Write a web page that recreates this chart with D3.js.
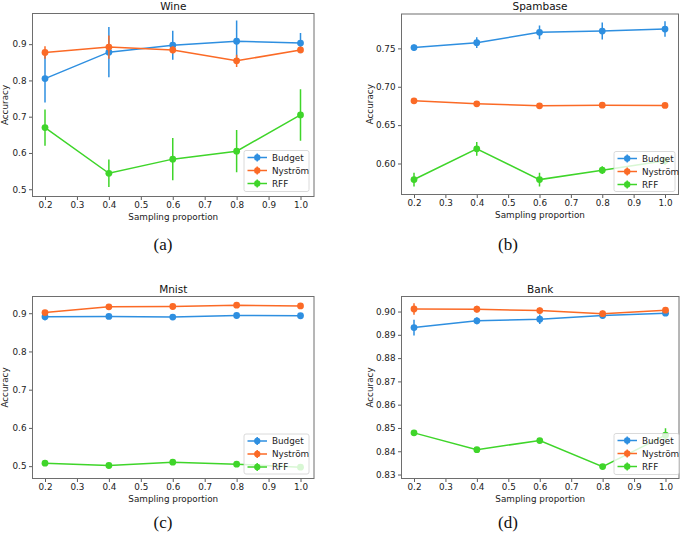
<!DOCTYPE html>
<html><head><meta charset="utf-8">
<script src="https://cdn.jsdelivr.net/npm/d3@7"></script>
<style>body{margin:0;background:#fff}svg{display:block}</style>
</head><body>
<script>
// ---------- DATA ----------
const samplingProportion = [0.2, 0.4, 0.6, 0.8, 1.0];
const seriesNames = ["Budget", "Nyström", "RFF"];
const xTicks = [0.2, 0.3, 0.4, 0.5, 0.6, 0.7, 0.8, 0.9, 1.0];

const wineBudget = [0.805, 0.878, 0.897, 0.908, 0.903];
const wineBudgetErr = [0.066, 0.069, 0.040, 0.057, 0.028];
const wineNystrom = [0.877, 0.892, 0.884, 0.854, 0.884];
const wineNystromErr = [0.017, 0.032, 0.010, 0.017, 0.007];
const wineRFF = [0.670, 0.544, 0.583, 0.605, 0.705];
const wineRFFErr = [0.050, 0.038, 0.058, 0.058, 0.071];
const wineYTicks = [0.5, 0.6, 0.7, 0.8, 0.9];

const spamBudget = [0.751, 0.7574, 0.7709, 0.7726, 0.7752];
const spamBudgetErr = [0.004, 0.007, 0.009, 0.011, 0.010];
const spamNystrom = [0.6817, 0.6778, 0.6752, 0.676, 0.6757];
const spamNystromErr = [0.002, 0.002, 0.002, 0.002, 0.002];
const spamRFF = [0.5791, 0.6191, 0.579, 0.5913, 0.6035];
const spamRFFErr = [0.009, 0.009, 0.009, 0.005, 0.005];
const spamYTicks = [0.60, 0.65, 0.70, 0.75];

const mnistBudget = [0.891, 0.8917, 0.890, 0.894, 0.8934];
const mnistBudgetErr = [0.010, 0.003, 0.003, 0.003, 0.002];
const mnistNystrom = [0.9017, 0.9166, 0.9175, 0.921, 0.919];
const mnistNystromErr = [0.003, 0.003, 0.002, 0.003, 0.002];
const mnistRFF = [0.5079, 0.5017, 0.5105, 0.5052, 0.4974];
const mnistRFFErr = [0.003, 0.003, 0.005, 0.003, 0.003];
const mnistYTicks = [0.5, 0.6, 0.7, 0.8, 0.9];

const bankBudget = [0.8931, 0.896, 0.8967, 0.8983, 0.8993];
const bankBudgetErr = [0.0034, 0.0015, 0.002, 0.0012, 0.001];
const bankNystrom = [0.9011, 0.901, 0.9004, 0.8991, 0.9006];
const bankNystromErr = [0.0025, 0.0015, 0.0013, 0.0013, 0.0012];
const bankRFF = [0.8479, 0.8407, 0.8446, 0.8334, 0.8469];
const bankRFFErr = [0.0006, 0.0006, 0.0006, 0.0006, 0.003];
const bankYTicks = [0.83, 0.84, 0.85, 0.86, 0.87, 0.88, 0.89, 0.90];

const colors = ["#2e8fe0", "#fb6a26", "#3fd52a"];

// ---------- LAYOUT ----------
const panels = [
  {title:"Wine", caption:"(a)", box:[32.5,13.5,314,196.5], ydom:[0.48,0.9845], yticks:wineYTicks, fmt:d3.format(".1f"),
   series:[[wineBudget,wineBudgetErr],[wineNystrom,wineNystromErr],[wineRFF,wineRFFErr]],
   legend:[244,150.5,309,191.5], ylabX:5, capX:163, capY:250},
  {title:"Spambase", caption:"(b)", box:[401.5,14,678.5,194.5], ydom:[0.5596,0.7948], yticks:spamYTicks, fmt:d3.format(".2f"),
   series:[[spamBudget,spamBudgetErr],[spamNystrom,spamNystromErr],[spamRFF,spamRFFErr]],
   legend:[614,151.5,675,191.5], ylabX:370, capX:508, capY:250},
  {title:"Mnist", caption:"(c)", box:[32.5,296.5,314,478.5], ydom:[0.4677,0.9437], yticks:mnistYTicks, fmt:d3.format(".1f"),
   series:[[mnistBudget,mnistBudgetErr],[mnistNystrom,mnistNystromErr],[mnistRFF,mnistRFFErr]],
   legend:[244,434,309,474], ylabX:5, capX:163, capY:528},
  {title:"Bank", caption:"(d)", box:[401.5,296.5,679,478.5], ydom:[0.8283,0.90646], yticks:bankYTicks, fmt:d3.format(".2f"),
   series:[[bankBudget,bankBudgetErr],[bankNystrom,bankNystromErr],[bankRFF,bankRFFErr]],
   legend:[614,433.5,679,474.5], ylabX:370, capX:508, capY:528}
];

const svg = d3.select("body").append("svg").attr("width",685).attr("height",537);
const fontSans = "'DejaVu Sans', sans-serif";

panels.forEach(p => {
  const [x0,y0,x1,y1] = p.box;
  const padL = 12.5, padR = 13.5;
  const x = d3.scaleLinear().domain([0.2,1.0]).range([x0+padL, x1-padR]);
  const y = d3.scaleLinear().domain(p.ydom).range([y1, y0]);
  const g = svg.append("g");

  const xAxis = d3.axisBottom(x).tickValues(xTicks).tickFormat(d3.format(".1f")).tickSize(3.5).tickPadding(2);
  const yAxis = d3.axisLeft(y).tickValues(p.yticks).tickFormat(p.fmt).tickSize(3.5).tickPadding(2.5);
  const gx = g.append("g").attr("transform",`translate(0,${y1})`).call(xAxis);
  const gy = g.append("g").attr("transform",`translate(${x0},0)`).call(yAxis);
  [gx,gy].forEach(a => {
    a.select(".domain").remove();
    a.selectAll(".tick line").attr("stroke","#333").attr("stroke-width",0.8);
    a.selectAll(".tick text").attr("font-family",fontSans).attr("font-size",8.8).attr("fill","#222");
  });

  const clipId = "clip"+p.caption.replace(/\W/g,"");
  g.append("clipPath").attr("id",clipId).append("rect").attr("x",x0).attr("y",y0).attr("width",x1-x0).attr("height",y1-y0);
  const plot = g.append("g").attr("clip-path",`url(#${clipId})`);

  p.series.forEach(([vals,errs],si) => {
    const c = colors[si];
    const pts = samplingProportion.map((s,i)=>({s, v:vals[i], e:errs[i]}));
    plot.append("path").datum(pts)
      .attr("d", d3.line().x(d=>x(d.s)).y(d=>y(d.v)))
      .attr("fill","none").attr("stroke",c).attr("stroke-width",1.5);
    plot.selectAll(null).data(pts).enter().append("line")
      .attr("x1",d=>x(d.s)).attr("x2",d=>x(d.s))
      .attr("y1",d=>y(d.v-d.e)).attr("y2",d=>y(d.v+d.e))
      .attr("stroke",c).attr("stroke-width",1.5);
    plot.selectAll(null).data(pts).enter().append("circle")
      .attr("cx",d=>x(d.s)).attr("cy",d=>y(d.v)).attr("r",3.4).attr("fill",c);
  });

  g.append("rect").attr("x",x0).attr("y",y0).attr("width",x1-x0).attr("height",y1-y0)
    .attr("fill","none").attr("stroke","#6e6e6e").attr("stroke-width",1);

  const [lx0,ly0,lx1,ly1] = p.legend;
  g.append("rect").attr("x",lx0).attr("y",ly0).attr("width",lx1-lx0).attr("height",ly1-ly0)
    .attr("rx",2).attr("fill","#fff").attr("fill-opacity",0.8).attr("stroke","#d0d0d0").attr("stroke-width",0.8);
  seriesNames.forEach((name,i) => {
    const ly = ly0 + 7 + i*13;
    const c = colors[i];
    const la = g.append("g");
    la.append("line").attr("x1",lx0+3.5).attr("x2",lx0+23).attr("y1",ly).attr("y2",ly).attr("stroke",c).attr("stroke-width",1.5);
    la.append("line").attr("x1",lx0+13.2).attr("x2",lx0+13.2).attr("y1",ly-4).attr("y2",ly+4).attr("stroke",c).attr("stroke-width",1.5);
    la.append("circle").attr("cx",lx0+13.2).attr("cy",ly).attr("r",3.2).attr("fill",c);
    la.append("text").attr("x",lx0+28).attr("y",ly).attr("dy","0.35em")
      .attr("font-family",fontSans).attr("font-size",8.8).attr("fill","#222").text(name);
  });

  g.append("text").attr("x",(x0+x1)/2).attr("y",y0-4).attr("text-anchor","middle")
    .attr("font-family",fontSans).attr("font-size",10.5).attr("fill","#111").text(p.title);
  g.append("text").attr("x",(x0+x1)/2).attr("y",y1+20.5).attr("dy","0.35em").attr("text-anchor","middle")
    .attr("font-family",fontSans).attr("font-size",8.8).attr("fill","#222").text("Sampling proportion");
  g.append("text").attr("transform",`translate(${p.ylabX},${(y0+y1)/2}) rotate(-90)`).attr("dy","0.35em")
    .attr("text-anchor","middle").attr("font-family",fontSans).attr("font-size",8.8).attr("fill","#222").text("Accuracy");
  svg.append("text").attr("x",p.capX).attr("y",p.capY).attr("text-anchor","middle")
    .attr("font-family","'Liberation Serif', 'DejaVu Serif', serif").attr("font-size",17).attr("fill","#111").text(p.caption);
});
</script>
</body></html>
